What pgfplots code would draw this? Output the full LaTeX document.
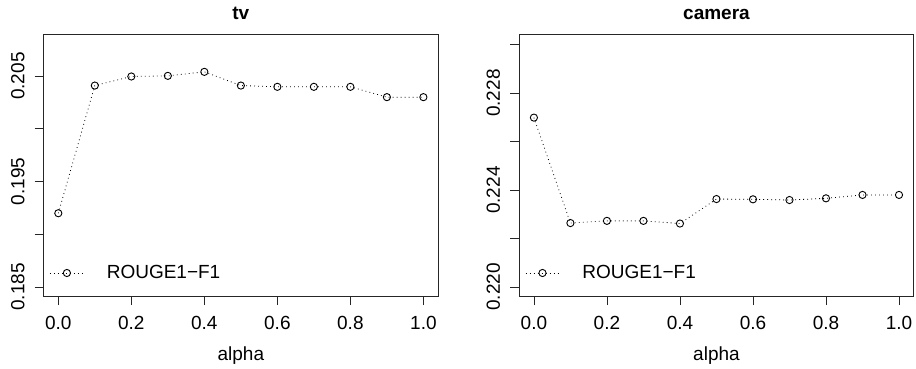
\documentclass[border=0pt]{standalone}
\usepackage{pgfplots}
\pgfplotsset{compat=1.18}
\usepackage{fontspec}
\setmainfont{Liberation Sans}
\begin{document}
\begin{tikzpicture}[x=1bp,y=1bp,font=\fontsize{19bp}{23bp}\selectfont]
\path[use as bounding box] (0,0) rectangle (916,368);
\pgfplotsset{
 rplot/.style={black, line width=0.8bp, dash pattern=on 0.8bp off 3.2bp, mark=o, mark size=3.6bp, mark options={solid, line width=0.9bp, fill=none}},
 rstyle/.style={
  scale only axis, width=394.3bp, height=262bp,
  xmin=-0.04, xmax=1.04,
  axis line style={line width=0.8bp, black!85},
  tick align=outside, major tick length=9bp,
  xtick pos=left, ytick pos=left,
  tick style={line width=0.8bp, black!85},
  xtick={0,0.2,0.4,0.6,0.8,1},
  xticklabels={0.0,0.2,0.4,0.6,0.8,1.0},
  xticklabel style={inner sep=0pt, anchor=base},
  xticklabel shift=24bp,
  yticklabel style={inner sep=0pt, rotate=90, anchor=south},
  yticklabel shift=10bp,
  xlabel={alpha},
  xlabel style={at={(axis description cs:0.5,0)}, anchor=base, yshift=-64bp, inner sep=0pt},
  title style={font=\fontsize{19bp}{23bp}\selectfont\bfseries, at={(axis description cs:0.5,1)}, anchor=base, yshift=9bp, inner sep=0pt},
  legend style={at={(axis description cs:0.0147,0.0878)}, anchor=west, draw=none, fill=none, inner sep=0pt, outer sep=0pt,
    nodes={inner sep=0pt}, /tikz/every even column/.append style={column sep=0pt}},
  legend cell align=left,
  legend image code/.code={\draw[mark repeat=2,mark phase=2,#1] plot coordinates {(0bp,0bp)(17bp,0bp)(33bp,0bp)};},
 }
}
\begin{axis}[rstyle, at={(43.7bp,72bp)}, anchor=south west,
  title={tv},
  ymin=0.18415, ymax=0.2090,
  ytick={0.185,0.190,0.195,0.200,0.205},
  yticklabels={0.185,,0.195,,0.205}]
\addplot[rplot] coordinates {(0.0,0.1920) (0.1,0.20411) (0.2,0.20497) (0.3,0.20503) (0.4,0.20541) (0.5,0.20411) (0.6,0.20399) (0.7,0.20399) (0.8,0.20399) (0.9,0.20301) (1.0,0.20301)};
\addlegendentry{\hspace{23.5bp}ROUGE1−F1}
\end{axis}
\begin{axis}[rstyle, at={(519.3bp,72bp)}, anchor=south west,
  title={camera},
  ymin=0.21963, ymax=0.23044,
  ytick={0.220,0.222,0.224,0.226,0.228,0.230},
  yticklabels={0.220,,0.224,,0.228,}]
\addplot[rplot] coordinates {(0.0,0.22699) (0.1,0.22264) (0.2,0.22273) (0.3,0.22273) (0.4,0.22262) (0.5,0.22363) (0.6,0.22362) (0.7,0.22359) (0.8,0.22366) (0.9,0.22380) (1.0,0.22380)};
\addlegendentry{\hspace{23.5bp}ROUGE1−F1}
\end{axis}
\end{tikzpicture}
\end{document}
